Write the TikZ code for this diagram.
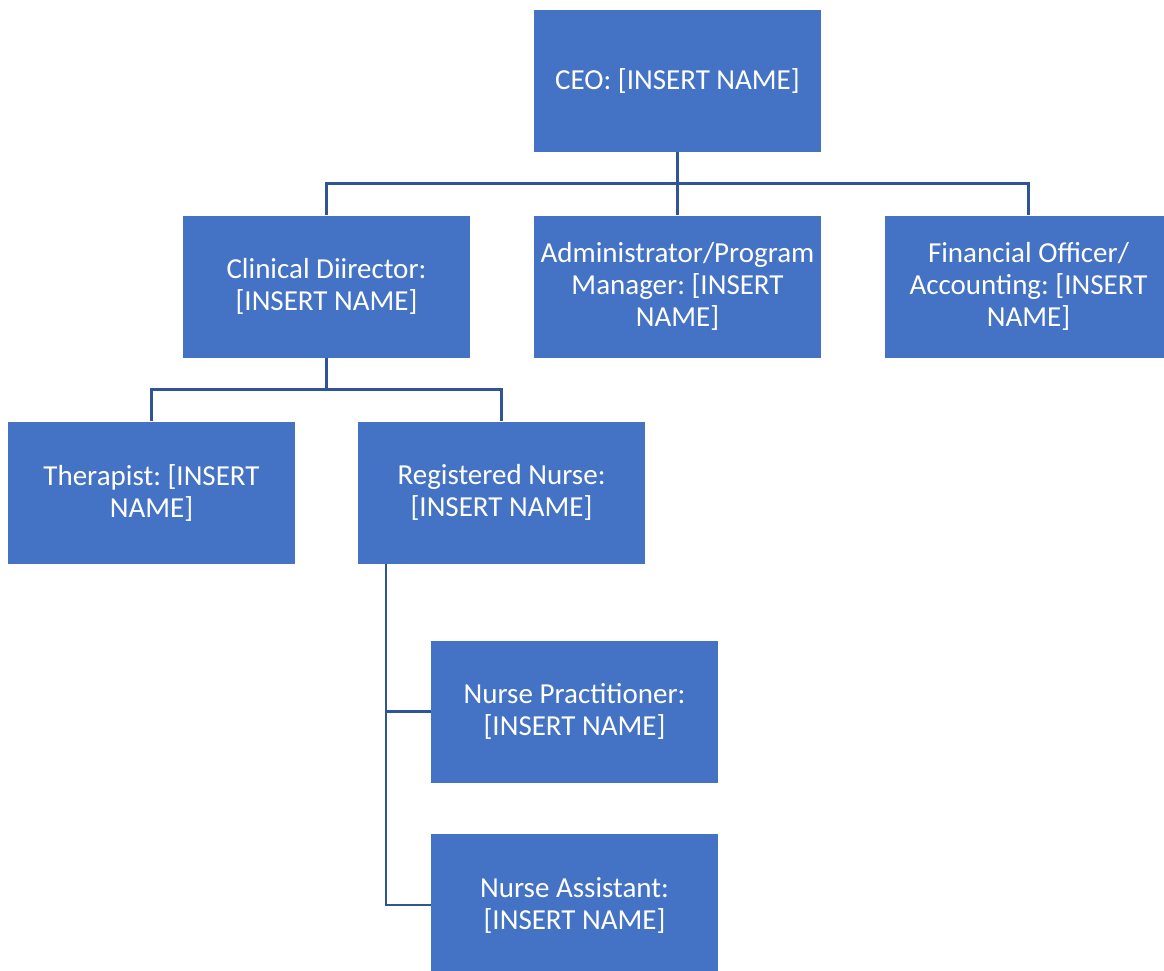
\documentclass[tikz,border=0pt]{standalone}
\usepackage{fontspec}
\setmainfont{Carlito}
\usetikzlibrary{positioning}
\definecolor{boxblue}{RGB}{68,114,196}
\definecolor{lineblue}{RGB}{47,85,151}
\frenchspacing

\begin{document}
\begin{tikzpicture}[x=1pt,y=-1pt,
  box/.style={fill=boxblue,text=white,align=center,minimum width=287pt,minimum height=142pt,inner sep=2pt,font=\fontsize{29}{32}\selectfont},
  link/.style={draw=lineblue,line width=2.6pt}]
\useasboundingbox (0,0) rectangle (1164,970);
\node[box] (ceo) at (677.5,81) {CEO: [INSERT NAME]};
\node[box] (clin) at (326.5,286.5) {Clinical Diirector:\\{}[INSERT NAME]};
\node[box] (admin) at (677.5,286.5) {Administrator/Program\\Manager: [INSERT\\NAME]};
\node[box] (fin) at (1028.5,286.5) {Financial Officer/\\Accounting: [INSERT\\NAME]};
\node[box] (ther) at (151.5,492.5) {Therapist: [INSERT\\NAME]};
\node[box] (rn) at (501.5,492.5) {Registered Nurse:\\{}[INSERT NAME]};
\node[box] (np) at (574.5,711.5) {Nurse Practitioner:\\{}[INSERT NAME]};
\node[box] (na) at (574.5,905) {Nurse Assistant:\\{}[INSERT NAME]};
\coordinate (rnbus) at ([xshift=28pt]rn.south west);
\draw[link] (ceo.south) -- (admin.north);
\draw[link] (clin.north) -- ++(0,-32) -| (fin.north);
\draw[link] (clin.south) -- ++(0,33);
\draw[link] (ther.north) -- ++(0,-32) -| (rn.north);
\draw[link] (rnbus) |- (np.west);
\draw[link] (rnbus) |- (na.west);
\end{tikzpicture}
\end{document}
